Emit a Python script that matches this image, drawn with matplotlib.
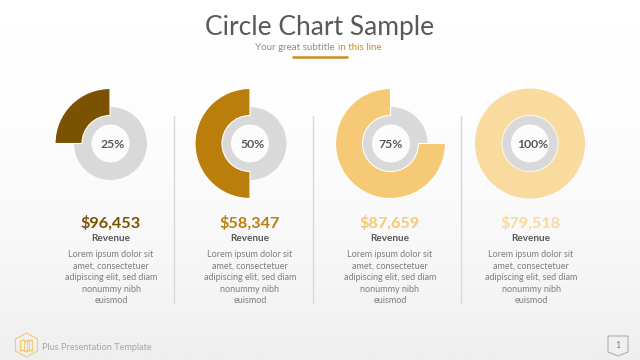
"""Circle chart slide: four progress donuts with revenue captions."""

import matplotlib
matplotlib.use("Agg")
import matplotlib.pyplot as plt
import numpy as np
from matplotlib.colors import LinearSegmentedColormap
from matplotlib.patches import Polygon

plt.rcParams["font.family"] = ["Lato", "DejaVu Sans"]

# Data
percents = [25, 50, 75, 100]
percent_labels = ["25%", "50%", "75%", "100%"]
prices = ["$96,453", "$58,347", "$87,659", "$79,518"]
caption = "Revenue"
lorem = "Lorem ipsum dolor sit\namet, consectetuer\nadipiscing elit, sed diam\nnonummy nibh\neuismod"

# Style and layout
colors = ["#7a5200", "#b97e0c", "#f5c976", "#f9dba0"]
GREY = "#d9d9d9"
TEXT = "#595959"
centers_x = [110, 250, 390.5, 530]
gray_x = [110.5, 250, 391, 530]
label_x = [113, 253, 391, 533]
text_x = [111, 250, 390, 531]
seps_x = [173.5, 313, 460.5]
H = 360  # picture height, text below is placed from the top


def y(top):
    return H - top


fig = plt.figure(figsize=(6.4, 3.6), dpi=100)
ax = fig.add_axes([0, 0, 1, 1])

# soft white to grey background
bg = LinearSegmentedColormap.from_list("bg", ["#ffffff", "#efefef"])
ax.imshow(np.linspace(0, 1, 256).reshape(-1, 1) ** 2, extent=(0, 640, 0, 360), aspect="auto",
          cmap=bg, vmin=0, vmax=1, origin="upper", zorder=0)

for i, pct in enumerate(percents):
    cy = y(143.5)
    ax.pie([100], radius=36.5, center=(gray_x[i], cy), colors=[GREY], frame=True,
           wedgeprops=dict(width=17.5, linewidth=0), startangle=90)
    wedges, _ = ax.pie([pct, 100 - pct], radius=55, center=(centers_x[i], cy),
                       colors=[colors[i], "none"], frame=True, startangle=90, counterclock=True,
                       wedgeprops=dict(width=27, linewidth=0.8, edgecolor="#ffffff"))
    wedges[1].set_visible(False)
    if pct == 100:
        # a full circle would show its seam, so the white rim is a ring of its own
        wedges[0].set_linewidth(0)
        ax.pie([100], radius=28.5, center=(centers_x[i], cy), colors=["#ffffff"], frame=True,
               wedgeprops=dict(width=0.8, linewidth=0), startangle=90)
    ax.text(label_x[i], y(144), percent_labels[i], fontsize=8.8, fontweight="bold",
            color=TEXT, ha="center", va="center", zorder=5)
    ax.text(text_x[i], y(223), prices[i], fontsize=11.7, fontweight="bold", color=colors[i],
            ha="center", va="center", zorder=5)
    ax.text(text_x[i], y(238.5), caption, fontsize=7.2, fontweight="bold", color=TEXT,
            ha="center", va="center", zorder=5)
    ax.text(text_x[i], y(277.5), lorem, fontsize=6.5, color="#7f7f7f", ha="center", va="center",
            linespacing=1.38, zorder=5)

for sx in seps_x:
    ax.plot([sx, sx], [y(116), y(303)], color="#d9d9d9", lw=1, zorder=1)

# header
ax.text(320, y(27), "Circle Chart Sample", fontsize=19, color=TEXT, ha="center", va="center", zorder=5)
ax.text(337, y(47), "Your great subtitle ", fontsize=7, color="#8c8c8c", ha="right", va="center", zorder=5)
ax.text(337.5, y(47), "in this line", fontsize=7, color="#c98f1e", ha="left", va="center", zorder=5)
ax.plot([292, 348], [y(57), y(57)], color="#c98f1e", lw=1.8, solid_capstyle="butt", zorder=5)

# footer logo and page tag
hex_pts = [(26.5, 333), (37.5, 339), (37.5, 351), (26.5, 357), (15.5, 351), (15.5, 339)]
ax.add_patch(Polygon([(px, y(py)) for px, py in hex_pts], closed=True, fill=False,
                     edgecolor="#f5c976", lw=0.8, zorder=5))
map_pts = [(20.5, 341), (24, 340), (26.5, 342), (29, 340), (32.5, 341), (32.5, 351),
           (29, 350), (26.5, 352), (24, 350), (20.5, 351)]
ax.add_patch(Polygon([(px, y(py)) for px, py in map_pts], closed=True, fill=False,
                     edgecolor="#f5c976", lw=1, zorder=5))
for fx in [24, 26.5, 29]:
    ax.plot([fx, fx], [y(341), y(351)], color="#f5c976", lw=0.7, zorder=5)
ax.text(42, y(348), "Plus Presentation Template", fontsize=6.6, color="#a6a6a6",
        ha="left", va="center", zorder=5)

tag_pts = [(608, 336), (628, 336), (628, 352), (618, 356), (608, 352)]
ax.add_patch(Polygon([(px, y(py)) for px, py in tag_pts], closed=True, fill=False,
                     edgecolor="#a6a6a6", lw=0.7, zorder=5))
ax.text(618, y(346), "1", fontsize=6.5, color="#7f7f7f", ha="center", va="center", zorder=5)

ax.set_xlim(0, 640)
ax.set_ylim(0, 360)
ax.axis("off")

fig.savefig("out.png", dpi=100)
